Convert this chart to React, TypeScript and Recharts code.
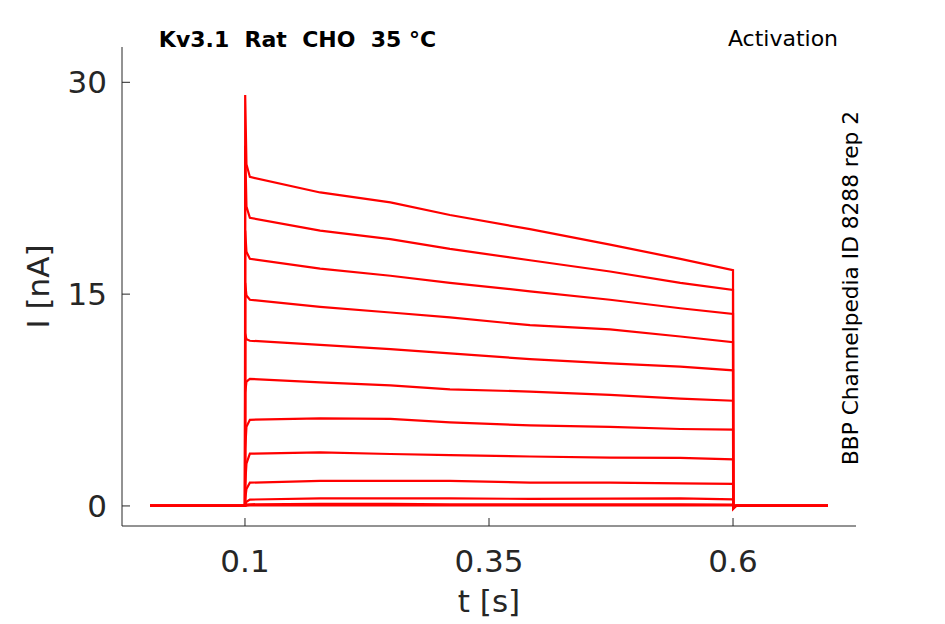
import React from 'react';
import { LineChart, Line, XAxis, YAxis, Customized } from 'recharts';

const times = [0.0027, 0.1, 0.1002, 0.1015, 0.105, 0.177, 0.249, 0.31, 0.392, 0.474, 0.546, 0.6, 0.6002, 0.603, 0.6973];

const traceA = [0, 0, 29.1, 24.2, 23.3, 22.2, 21.5, 20.6, 19.6, 18.5, 17.5, 16.7, -0.2, 0, 0];
const traceB = [0, 0, 25.5, 21.2, 20.4, 19.5, 18.9, 18.2, 17.4, 16.6, 15.8, 15.3, -0.2, 0, 0];
const traceC = [0, 0, 19.5, 18.0, 17.5, 16.8, 16.3, 15.8, 15.2, 14.6, 14.0, 13.6, -0.15, 0, 0];
const traceD = [0, 0, 15.8, 14.9, 14.6, 14.1, 13.7, 13.35, 12.8, 12.5, 12.0, 11.6, -0.15, 0, 0];
const traceE = [0, 0, 12.2, 11.8, 11.7, 11.4, 11.1, 10.8, 10.4, 10.1, 9.86, 9.6, -0.1, 0, 0];
const traceF = [0, 0, 8.0, 8.8, 9.0, 8.75, 8.54, 8.26, 8.1, 7.86, 7.6, 7.45, -0.1, 0, 0];
const traceG = [0, 0, 4.0, 5.6, 6.1, 6.2, 6.16, 5.92, 5.7, 5.6, 5.45, 5.4, -0.1, 0, 0];
const traceH = [0, 0, 1.5, 3.0, 3.7, 3.8, 3.68, 3.6, 3.5, 3.42, 3.4, 3.3, -0.05, 0, 0];
const traceI = [0, 0, 0.5, 1.2, 1.65, 1.77, 1.77, 1.77, 1.65, 1.65, 1.6, 1.56, 0, 0, 0];
const traceJ = [0, 0, 0.1, 0.3, 0.45, 0.54, 0.54, 0.54, 0.5, 0.52, 0.54, 0.47, 0, 0, 0];
const traceK = [0, 0, 0.05, 0.1, 0.12, 0.15, 0.15, 0.12, 0.12, 0.12, 0.12, 0.1, 0, 0, 0];
const traceL = [0, 0, 0, 0.02, 0.03, 0.03, 0.03, 0.03, 0.03, 0.03, 0.03, 0.03, 0, 0, 0];

const traces = [traceA, traceB, traceC, traceD, traceE, traceF, traceG, traceH, traceI, traceJ, traceK, traceL];

const xTicks = [0.1, 0.35, 0.6];
const yTicks = [0, 15, 30];

const titleText = 'Kv3.1  Rat  CHO  35 °C';
const protocolText = 'Activation';
const sourceText = 'BBP Channelpedia ID 8288 rep 2';

const rows = times.map((t, i) => {
  const r: Record<string, number> = { t };
  traces.forEach((tr, k) => {
    r['s' + k] = tr[i];
  });
  return r;
});

const FONT = 'DejaVu Sans, sans-serif';
const AXIS = '#262626';

const YTick = (props: any) => {
  const { x, y, payload } = props;
  return (
    <g>
      <line x1={x} y1={y} x2={x + 8} y2={y} stroke={AXIS} strokeWidth={1} />
      <text x={x - 15} y={y + 11} textAnchor="end" fontSize={31} fontFamily={FONT} fill={AXIS}>
        {String(payload.value)}
      </text>
    </g>
  );
};

const XTick = (props: any) => {
  const { x, y, payload } = props;
  return (
    <g>
      <line x1={x} y1={y} x2={x} y2={y - 8} stroke={AXIS} strokeWidth={1} />
      <text x={x} y={y + 46} textAnchor="middle" fontSize={31} fontFamily={FONT} fill={AXIS}>
        {String(payload.value)}
      </text>
    </g>
  );
};

const XLabel = (props: any) => {
  const vb = props.viewBox || {};
  return (
    <text x={vb.x + vb.width / 2} y={vb.y + 86} textAnchor="middle" fontSize={31} fontFamily={FONT} fill={AXIS}>
      t [s]
    </text>
  );
};

const YLabel = (props: any) => {
  const vb = props.viewBox || {};
  const cx = 49;
  const cy = vb.y + vb.height / 2;
  return (
    <text x={cx} y={cy} transform={`rotate(-90, ${cx}, ${cy})`} textAnchor="middle" fontSize={31} fontFamily={FONT} fill={AXIS}>
      I [nA]
    </text>
  );
};

const Texts = () => (
  <g>
    <text x={297.5} y={47} textAnchor="middle" fontSize={22} fontWeight="bold" fontFamily={FONT} fill="#000" style={{ whiteSpace: 'pre' }} xmlSpace="preserve">
      {titleText}
    </text>
    <text x={783} y={46} textAnchor="middle" fontSize={22} fontFamily={FONT} fill="#000">
      {protocolText}
    </text>
    <text x={858} y={288} transform="rotate(-90, 858, 288)" textAnchor="middle" fontSize={21.7} fontFamily={FONT} fill="#000">
      {sourceText}
    </text>
  </g>
);

export default function App() {
  return (
    <div style={{ position: 'absolute', left: 0, top: 0, background: '#fff' }}>
      <LineChart width={945} height={624} data={rows} margin={{ top: 47, right: 89, left: 0, bottom: 0 }}>
        <XAxis
          dataKey="t"
          type="number"
          domain={[-0.026, 0.726]}
          ticks={xTicks}
          allowDataOverflow
          height={98}
          tickSize={0}
          tickMargin={0}
          tickLine={false}
          tick={<XTick />}
          axisLine={{ stroke: AXIS, strokeWidth: 1 }}
          label={<XLabel />}
          interval={0}
        />
        <YAxis
          type="number"
          domain={[-1.42, 32.5]}
          ticks={yTicks}
          allowDataOverflow
          width={122}
          tickSize={0}
          tickMargin={0}
          tickLine={false}
          tick={<YTick />}
          axisLine={{ stroke: AXIS, strokeWidth: 1 }}
          label={<YLabel />}
          interval={0}
        />
        {traces.map((_, k) => (
          <Line
            key={k}
            dataKey={'s' + k}
            type="linear"
            stroke="#ff0000"
            strokeWidth={2.2}
            dot={false}
            activeDot={false}
            isAnimationActive={false}
          />
        ))}
        <Customized component={Texts} />
      </LineChart>
    </div>
  );
}
